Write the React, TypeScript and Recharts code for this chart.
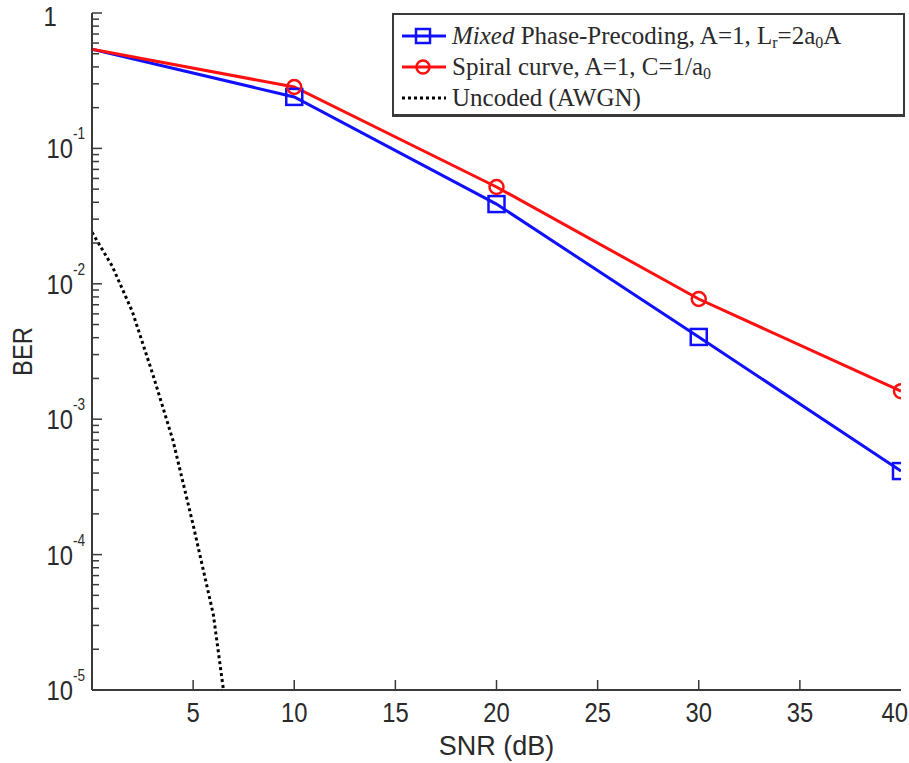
import { LineChart, Line, XAxis, YAxis, Legend } from "recharts";

// values (BER on a log axis)
const snr = [0, 10, 20, 30, 40];
const mixedBer = [0.54, 0.24, 0.0388, 0.00405, 0.000414];
const spiralBer = [0.54, 0.284, 0.0519, 0.00772, 0.00161];
const uncodedSnr = [0, 1, 2, 3, 4, 5, 6, 6.5];
const uncodedBer = [0.024, 0.0135, 0.0062, 0.00216, 0.0007, 0.000166, 0.000036, 0.00001];

const xTicks = [0, 5, 10, 15, 20, 25, 30, 35, 40];
const yMajor = [1e-5, 1e-4, 1e-3, 1e-2, 1e-1, 1];
const yMinorSteps = [2, 3, 4, 5, 6, 7, 8, 9];

const mixedData = snr.map((x, i) => ({ x, y: mixedBer[i] }));
const spiralData = snr.map((x, i) => ({ x, y: spiralBer[i] }));
const uncodedData = uncodedSnr.map((x, i) => ({ x, y: uncodedBer[i] }));

const yTicks = [
  ...yMajor,
  ...yMajor.slice(0, -1).flatMap((m) => yMinorSteps.map((s) => m * s)),
].sort((a, b) => a - b);

const isMajor = (v: number) => yMajor.some((m) => Math.abs(m - v) / m < 1e-6);

const FRAME = "#3a3a3a";
const TEXT = "#2a2a2a";
const BLUE = "#1010ff";
const RED = "#ff1010";
const TICK_FONT = "'Liberation Sans', Arial, sans-serif";
const SERIF = "'Liberation Serif', 'Times New Roman', serif";

// the axis font in the figure is a tall, condensed sans
function NarrowText({ x, y, anchor, size = 28, rotate = 0, children }: any) {
  return (
    <text
      transform={`translate(${x} ${y}) rotate(${rotate}) scale(0.85 1)`}
      textAnchor={anchor}
      fontSize={size}
      fontFamily={TICK_FONT}
      fill={TEXT}
    >
      {children}
    </text>
  );
}

function BottomTick({ x, y, payload }: any) {
  const v = payload.value;
  if (v === 0) return <g />;
  return (
    <g>
      {v !== 40 && <line x1={x} y1={y} x2={x} y2={y - 10} stroke={FRAME} strokeWidth={1.5} />}
      {v === 40 ? (
        <NarrowText x={x + 7} y={y + 32} anchor="end">
          {v}
        </NarrowText>
      ) : (
        <NarrowText x={x} y={y + 32} anchor="middle">
          {v}
        </NarrowText>
      )}
    </g>
  );
}

function TopTick({ x, y, payload }: any) {
  if (payload.value === 0 || payload.value === 40) return <g />;
  return <line x1={x} y1={y} x2={x} y2={y + 8} stroke={FRAME} strokeWidth={1.5} />;
}

function LeftTick({ x, y, payload }: any) {
  const v = payload.value as number;
  const major = isMajor(v);
  const len = major ? 10 : 7;
  const exp = Math.round(Math.log10(v));
  return (
    <g>
      <line x1={x} y1={y} x2={x + len} y2={y} stroke={FRAME} strokeWidth={1.5} />
      {major && exp === 0 && (
        <NarrowText x={x - 42} y={y + 13} anchor="middle">
          1
        </NarrowText>
      )}
      {major && exp !== 0 && (
        <NarrowText x={x - 7} y={y + 10} anchor="end">
          10
          <tspan dy={-19} fontSize={16}>
            {exp}
          </tspan>
        </NarrowText>
      )}
    </g>
  );
}

function RightTick({ x, y, payload }: any) {
  const len = isMajor(payload.value) ? 10 : 7;
  return <line x1={x} y1={y} x2={x - len} y2={y} stroke={FRAME} strokeWidth={1.5} />;
}

// the first point (0 dB) carries no marker in the figure
function SquareDot({ cx, cy, index }: any) {
  if (index === 0) return <g key={`sq-${index}`} />;
  return (
    <rect key={`sq-${index}`} x={cx - 8} y={cy - 8} width={16} height={16} fill="none" stroke={BLUE} strokeWidth={2.5} />
  );
}

function CircleDot({ cx, cy, index }: any) {
  if (index === 0) return <g key={`ci-${index}`} />;
  return <circle key={`ci-${index}`} cx={cx} cy={cy} r={7} fill="none" stroke={RED} strokeWidth={2.5} />;
}

function Sample({ color, dash, marker }: { color: string; dash?: string; marker?: "square" | "circle" }) {
  return (
    <svg width={46} height={20} style={{ flex: "none" }}>
      <line x1={1} y1={10} x2={45} y2={10} stroke={color} strokeWidth={3} strokeDasharray={dash} />
      {marker === "square" && <rect x={15} y={3} width={14} height={14} fill="none" stroke={color} strokeWidth={2.5} />}
      {marker === "circle" && <circle cx={22} cy={10} r={6.5} fill="none" stroke={color} strokeWidth={2.5} />}
    </svg>
  );
}

const subStyle = { fontSize: 16, verticalAlign: "-4px", lineHeight: 0 };

function LegendBox() {
  const row = { display: "flex", alignItems: "center", height: 31, gap: 5 } as const;
  return (
    <div
      style={{
        boxSizing: "border-box",
        width: 513,
        height: 104,
        background: "#fff",
        border: `2px solid ${FRAME}`,
        borderBottomWidth: 3,
        padding: "5px 0 0 7px",
        fontFamily: SERIF,
        fontSize: 25,
        color: TEXT,
        whiteSpace: "nowrap",
      }}
    >
      <div style={row}>
        <Sample color={BLUE} marker="square" />
        <span>
          <i>Mixed</i> Phase-Precoding, A=1, L<span style={subStyle}>r</span>=2a<span style={subStyle}>0</span>A
        </span>
      </div>
      <div style={row}>
        <Sample color={RED} marker="circle" />
        <span>
          Spiral curve, A=1, C=1/a<span style={subStyle}>0</span>
        </span>
      </div>
      <div style={row}>
        <Sample color="#000" dash="3 3" />
        <span>Uncoded (AWGN)</span>
      </div>
    </div>
  );
}

export default function App() {
  return (
    <div style={{ position: "absolute", left: 0, top: 0, width: 909, height: 763, background: "#fff" }}>
      <LineChart width={909} height={763} margin={{ top: 13, right: 8, bottom: 0, left: 0 }}>
        <XAxis
          type="number"
          dataKey="x"
          domain={[0, 40]}
          ticks={xTicks}
          interval={0}
          allowDataOverflow
          height={73}
          tickSize={0}
          tickMargin={0}
          tick={BottomTick}
          axisLine={{ stroke: FRAME, strokeWidth: 2 }}
          label={(p: any) => {
            const vb = p.viewBox;
            return (
              <text x={vb.x + vb.width / 2} y={vb.y + 65} textAnchor="middle" fontSize={27} fontFamily={TICK_FONT} fill={TEXT}>
                SNR (dB)
              </text>
            );
          }}
        />
        <XAxis
          xAxisId="top"
          orientation="top"
          type="number"
          dataKey="x"
          domain={[0, 40]}
          ticks={xTicks}
          interval={0}
          allowDataOverflow
          height={0}
          tickSize={0}
          tickMargin={0}
          tick={TopTick}
          axisLine={{ stroke: FRAME, strokeWidth: 2 }}
        />
        <YAxis
          type="number"
          scale="log"
          domain={[1e-5, 1]}
          ticks={yTicks}
          interval={0}
          allowDataOverflow
          width={92}
          tickSize={0}
          tickMargin={0}
          tick={LeftTick}
          axisLine={{ stroke: FRAME, strokeWidth: 2 }}
          label={(p: any) => {
            const vb = p.viewBox;
            const cy = vb.y + vb.height / 2;
            return (
              <NarrowText x={32} y={cy} rotate={-90} anchor="middle">
                BER
              </NarrowText>
            );
          }}
        />
        <YAxis
          yAxisId="right"
          orientation="right"
          type="number"
          scale="log"
          domain={[1e-5, 1]}
          ticks={yTicks}
          interval={0}
          allowDataOverflow
          width={0}
          tickSize={0}
          tickMargin={0}
          tick={RightTick}
          axisLine={{ stroke: FRAME, strokeWidth: 2 }}
        />
        <Line
          data={mixedData}
          dataKey="y"
          name="Mixed Phase-Precoding"
          type="linear"
          stroke={BLUE}
          strokeWidth={3}
          dot={SquareDot}
          isAnimationActive={false}
        />
        <Line
          data={spiralData}
          dataKey="y"
          name="Spiral curve"
          type="linear"
          stroke={RED}
          strokeWidth={3}
          dot={CircleDot}
          isAnimationActive={false}
        />
        <Line
          data={uncodedData}
          dataKey="y"
          name="Uncoded (AWGN)"
          type="linear"
          stroke="#000"
          strokeWidth={3}
          strokeDasharray="3 3"
          dot={false}
          isAnimationActive={false}
        />
        <Legend
          layout="vertical"
          align="center"
          verticalAlign="middle"
          wrapperStyle={{ left: 392, top: 13, width: 513, height: 104 }}
          content={() => <LegendBox />}
        />
      </LineChart>
    </div>
  );
}
